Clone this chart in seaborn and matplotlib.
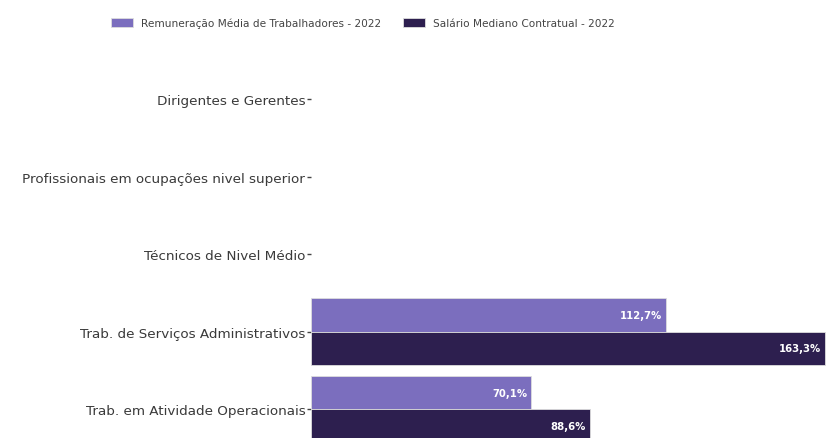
import pandas as pd
import numpy as np
import matplotlib
matplotlib.use("Agg")
import matplotlib.pyplot as plt
import seaborn as sns

# dados (somente as duas últimas categorias têm valores)
categorias = [
    "Dirigentes e Gerentes",
    "Profissionais em ocupações nivel superior",
    "Técnicos de Nivel Médio",
    "Trab. de Serviços Administrativos",
    "Trab. em Atividade Operacionais",
]
remuneracao_media = [np.nan, np.nan, np.nan, 112.7, 70.1]
salario_mediano = [np.nan, np.nan, np.nan, 163.3, 88.6]
series = ["Remuneração Média de Trabalhadores - 2022", "Salário Mediano Contratual - 2022"]
cores = ["#7B6EBE", "#2D1F4F"]

df = pd.DataFrame({
    "categoria": categorias * 2,
    "valor": remuneracao_media + salario_mediano,
    "serie": [series[0]] * len(categorias) + [series[1]] * len(categorias),
})

sns.set_style("white")
plt.rcParams["font.family"] = ["DejaVu Sans"]

fig = plt.figure(figsize=(8.38, 4.39), dpi=100)
ax = fig.add_axes([0.371, 0.0, 0.629, 0.859])

sns.barplot(data=df, y="categoria", x="valor", hue="serie", order=categorias,
            hue_order=series, palette=cores, saturation=1, orient="h", width=0.86,
            edgecolor="#dddddd", linewidth=0.6, ax=ax)

ax.set_xlim(0, 167.5)
ax.set_ylim(4.37, -0.49)
ax.set_xlabel("")
ax.set_ylabel("")
ax.set_xticks([])
for s in ax.spines.values():
    s.set_visible(False)
ax.tick_params(axis="y", length=3, width=1, color="#444444", labelsize=9.7,
               labelcolor="#3a3a3a", pad=1, left=True)

# rótulos dentro das barras
for cont in ax.containers:
    for bar in cont:
        w = bar.get_width()
        if np.isnan(w) or w == 0:
            continue
        ax.text(w - 1.2, bar.get_y() + bar.get_height() / 2,
                f"{w:.1f}%".replace(".", ","), ha="right", va="center",
                color="white", fontsize=7.3, fontweight="bold")

leg = ax.legend(loc="center", bbox_to_anchor=(0.433, 0.946), bbox_transform=fig.transFigure,
                ncol=2, frameon=False, fontsize=7.6, handlelength=2.1, handleheight=0.9,
                columnspacing=2.0, handletextpad=0.8, labelcolor="#444444")

fig.savefig("out.png", dpi=100)
